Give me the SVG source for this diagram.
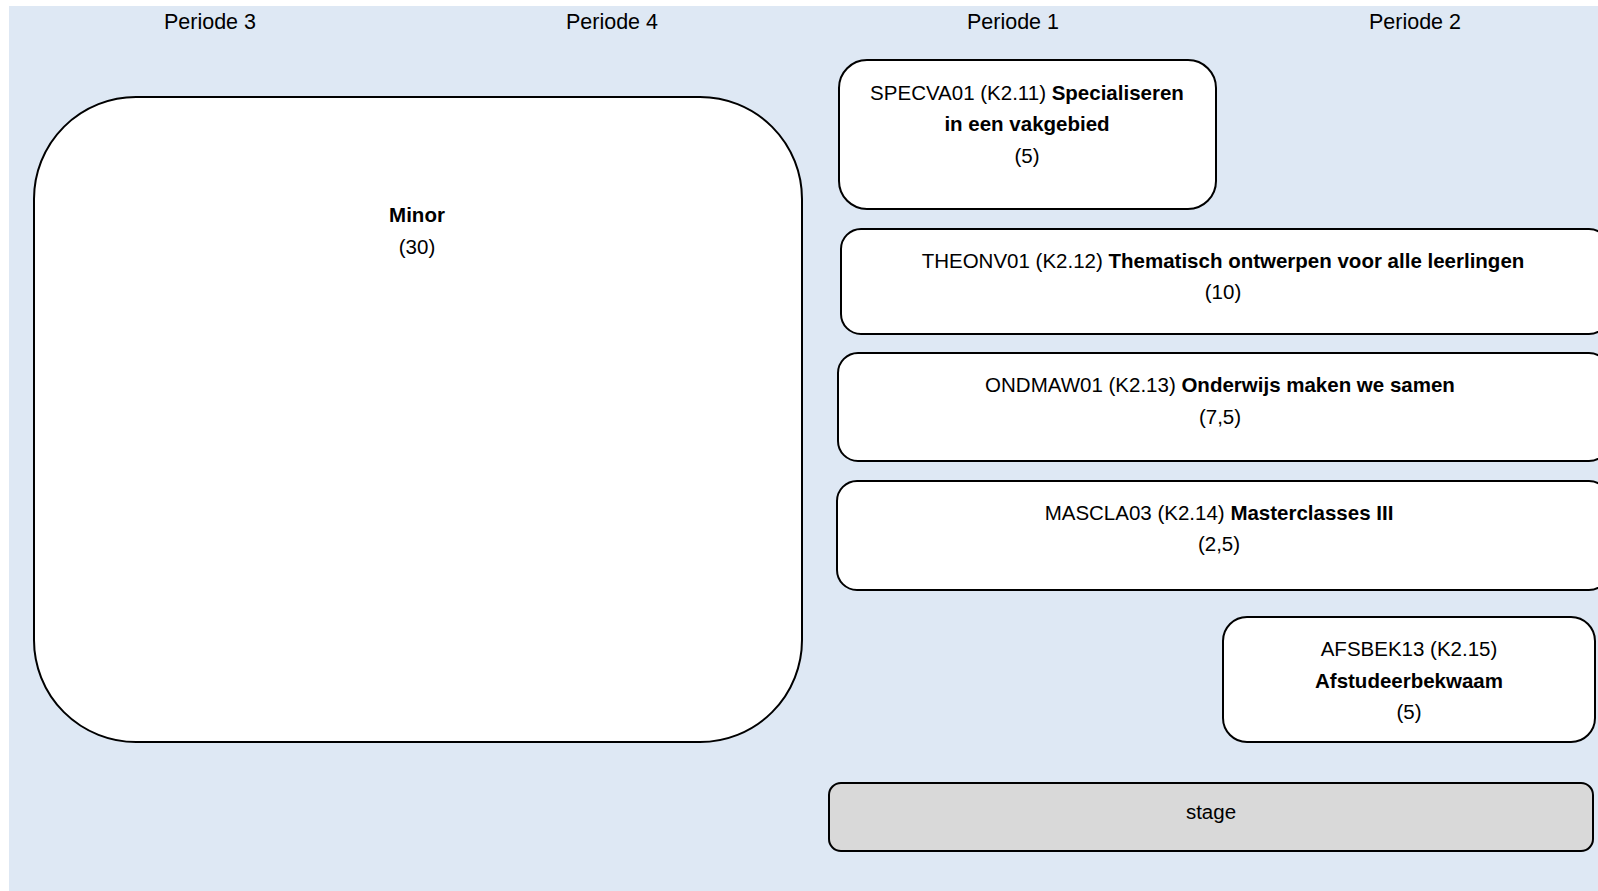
<svg xmlns="http://www.w3.org/2000/svg" width="1598" height="891" viewBox="0 0 1598 891">
<style>
text{font-family:"Liberation Sans",Arial,sans-serif;font-size:20.5px;fill:#000;text-anchor:middle}
.b{font-weight:bold}
.p{font-size:21.5px}
.box{fill:#fff;stroke:#000;stroke-width:2}
.grey{fill:#d9d9d9;stroke:#000;stroke-width:2}
</style>
<rect x="9" y="6" width="1589" height="885" fill="#dee8f4"/>
<g id="periods">
<text class="p" x="210" y="29">Periode 3</text>
<text class="p" x="612" y="29">Periode 4</text>
<text class="p" x="1013" y="29">Periode 1</text>
<text class="p" x="1415" y="29">Periode 2</text>
</g>
<g id="minor">
<rect class="box" x="34" y="97" width="768" height="645" rx="102" ry="102"/>
<text x="417" y="222" class="b">Minor</text>
<text x="417" y="254">(30)</text>
</g>
<g id="specva01">
<rect class="box" x="839" y="60" width="377" height="149" rx="28" ry="28"/>
<text x="1027" y="100">SPECVA01 (K2.11) <tspan class="b">Specialiseren</tspan></text>
<text x="1027" y="131" class="b">in een vakgebied</text>
<text x="1027" y="163">(5)</text>
</g>
<g id="theonv01">
<rect class="box" x="841" y="229" width="768" height="105" rx="20" ry="20"/>
<text x="1223" y="268">THEONV01 (K2.12) <tspan class="b">Thematisch ontwerpen voor alle leerlingen</tspan></text>
<text x="1223" y="299">(10)</text>
</g>
<g id="ondmaw01">
<rect class="box" x="838" y="353" width="771" height="108" rx="20" ry="20"/>
<text x="1220" y="392">ONDMAW01 (K2.13) <tspan class="b">Onderwijs maken we samen</tspan></text>
<text x="1220" y="424">(7,5)</text>
</g>
<g id="mascla03">
<rect class="box" x="837" y="481" width="772" height="109" rx="20" ry="20"/>
<text x="1219" y="520">MASCLA03 (K2.14) <tspan class="b">Masterclasses III</tspan></text>
<text x="1219" y="551">(2,5)</text>
</g>
<g id="afsbek13">
<rect class="box" x="1223" y="617" width="372" height="125" rx="24" ry="24"/>
<text x="1409" y="656">AFSBEK13 (K2.15)</text>
<text x="1409" y="688" class="b">Afstudeerbekwaam</text>
<text x="1409" y="719">(5)</text>
</g>
<g id="stage">
<rect class="grey" x="829" y="783" width="764" height="68" rx="12" ry="12"/>
<text x="1211" y="819">stage</text>
</g>
<g id="connectors"></g>
</svg>
